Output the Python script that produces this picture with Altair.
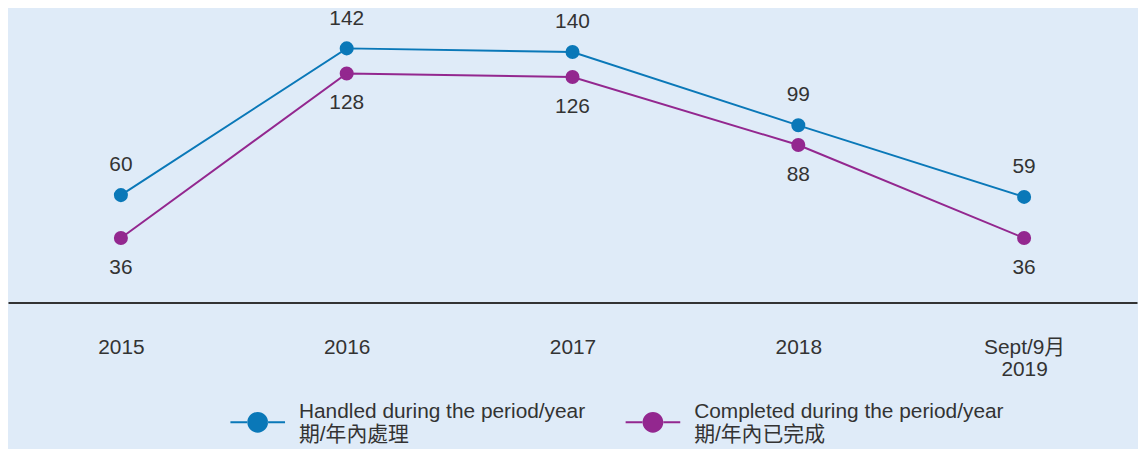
import altair as alt
import pandas as pd

periods = ["2015", "2016", "2017", "2018", "Sept/9月|2019"]
handled = [60, 142, 140, 99, 59]
completed = [36, 128, 126, 88, 36]
series_names = [
    "Handled during the period/year|期/年內處理",
    "Completed during the period/year|期/年內已完成",
]
colors = ["#0A78B8", "#93278F"]

rows = []
for i, p in enumerate(periods):
    rows.append({"period": p, "series": series_names[0], "value": handled[i]})
    rows.append({"period": p, "series": series_names[1], "value": completed[i]})
df = pd.DataFrame(rows)

FONT = "Liberation Sans, Noto Sans CJK TC, sans-serif"
TXT = "#333333"
FS = 21

x = alt.X(
    "period:N",
    sort=periods,
    scale=alt.Scale(type="point", padding=0.5),
    axis=alt.Axis(
        title=None,
        labelExpr="split(datum.label, '|')",
        labelAngle=0,
        ticks=False,
        tickSize=0,
        grid=False,
        domainColor="#333333",
        domainWidth=2,
        labelFontSize=FS,
        labelColor=TXT,
        labelFont=FONT,
        labelPadding=34.5,
        labelBaseline="top",
        labelLineHeight=22,
    ),
)
y = alt.Y("value:Q", scale=alt.Scale(domain=[0, 163.7]), axis=None)
cscale = alt.Scale(domain=series_names, range=colors)

# legend glyph: line with a dot, shifted down so it sits between the two label lines
PATH = ("M-1,0.344H-0.37V0.416H-1Z M0.37,0.344H1V0.416H0.37Z "
        "M-0.38,0.38A0.38,0.38 0 1,0 0.38,0.38A0.38,0.38 0 1,0 -0.38,0.38Z")

legend = alt.Legend(
    title=None,
    orient="none",
    legendX=224,
    legendY=377.5,
    direction="horizontal",
    symbolType=PATH,
    symbolSize=3025,
    symbolStrokeWidth=0,
    labelExpr="split(datum.label, '|')",
    labelFontSize=FS,
    labelFont=FONT,
    labelColor=TXT,
    labelLimit=600,
    labelOffset=14,
    columnPadding=40,
    labelBaseline="middle",
)
color = alt.Color("series:N", scale=cscale, sort=series_names, legend=legend)

base = alt.Chart(df)

points = base.mark_circle(size=200, opacity=1).encode(x=x, y=y, color=color)
lines = base.mark_line(strokeWidth=2).encode(x=x, y=y, color=color)
top_text = base.transform_filter(alt.datum.series == series_names[0]).mark_text(
    dy=-30, fontSize=FS, font=FONT, color=TXT, baseline="middle"
).encode(x=x, y=y, text="value:Q")
bot_text = base.transform_filter(alt.datum.series == series_names[1]).mark_text(
    dy=30, fontSize=FS, font=FONT, color=TXT, baseline="middle"
).encode(x=x, y=y, text="value:Q")

chart = (
    alt.layer(points, lines, top_text, bot_text)
    .properties(
        width=1137,
        height=295,
        padding={"left": 0, "top": 0, "right": 1, "bottom": 146},
        autosize=alt.AutoSizeParams(type="none"),
        background="#DFEBF8",
    )
    .configure_view(stroke=None)
)
chart.save("out.html", embed_options={"renderer": "svg", "actions": False})
